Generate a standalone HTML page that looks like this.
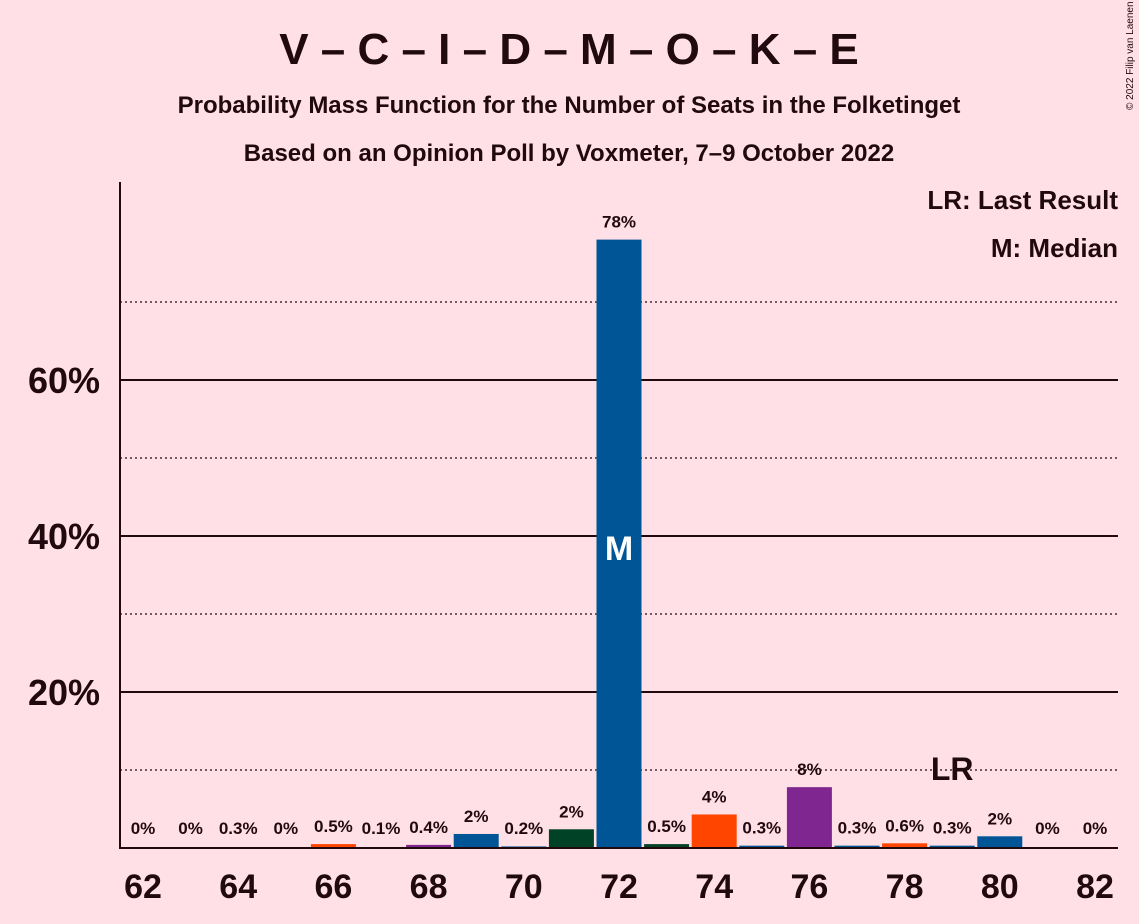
<!DOCTYPE html>
<html><head><meta charset="utf-8"><style>
body{margin:0;background:#FFE0E6;font-family:"Liberation Sans",sans-serif;}
svg{display:block}
</style></head><body>
<svg width="1139" height="924">
<rect width="1139" height="924" fill="#FFE0E6"/>
<text x="569" y="64" text-anchor="middle" font-size="44" font-weight="bold" fill="#200a10">V – C – I – D – M – O – K – E</text>
<text x="569" y="113" text-anchor="middle" font-size="24" font-weight="bold" fill="#200a10">Probability Mass Function for the Number of Seats in the Folketinget</text>
<text x="569" y="161" text-anchor="middle" font-size="24" font-weight="bold" fill="#200a10">Based on an Opinion Poll by Voxmeter, 7–9 October 2022</text>
<text x="1133" y="110" font-size="10" fill="#200a10" transform="rotate(-90 1133 110)">© 2022 Filip van Laenen</text>
<text x="1118" y="209" text-anchor="end" font-size="26" font-weight="bold" fill="#200a10">LR: Last Result</text>
<text x="1118" y="257" text-anchor="end" font-size="26" font-weight="bold" fill="#200a10">M: Median</text>
<g id="grid"></g>
<g id="bars"></g>
<line x1="120" y1="182" x2="120" y2="849" stroke="#200a10" stroke-width="2"/>
<line x1="119" y1="848" x2="1118" y2="848" stroke="#200a10" stroke-width="2"/>
<g id="xt"></g>
</svg>
<script>
const seats=[62,63,64,65,66,67,68,69,70,71,72,73,74,75,76,77,78,79,80,81,82];
const values=[0,0,0.05,0,0.5,0.1,0.4,1.8,0.2,2.4,78,0.5,4.3,0.3,7.8,0.3,0.6,0.3,1.5,0,0];
const labels=["0%","0%","0.3%","0%","0.5%","0.1%","0.4%","2%","0.2%","2%","78%","0.5%","4%","0.3%","8%","0.3%","0.6%","0.3%","2%","0%","0%"];
const colors=["#005596","#005596","#005596","#005596","#FF4500","#7F2690","#7F2690","#005596","#005596","#004225","#005596","#004225","#FF4500","#005596","#7F2690","#005596","#FF4500","#005596","#005596","#005596","#005596"];
const majorTicks=[20,40,60];
const minorTicks=[10,30,50,70];
const xTicks=[62,64,66,68,70,72,74,76,78,80,82];
const medianSeat=72, lastResult=79;
const NS="http://www.w3.org/2000/svg";
const C="#200a10";
const y=v=>848-v*7.8;
const x=s=>143+(s-62)*47.6;
function mk(t,p,a){const e=document.createElementNS(NS,t);for(const k in a)e.setAttribute(k,a[k]);p.appendChild(e);return e;}
const g=document.getElementById('grid');
minorTicks.forEach(v=>{const l=mk('line',g,{x1:120,x2:1118,y1:y(v),y2:y(v),stroke:C,'stroke-width':1.3,'stroke-dasharray':'2,3'});

});
majorTicks.forEach(v=>{const l=mk('line',g,{x1:120,x2:1118,y1:y(v),y2:y(v),stroke:C,'stroke-width':2});


const t=mk('text',g,{x:100,y:y(v)+13,'text-anchor':'end','font-size':36,'font-weight':'bold',fill:C});t.textContent=v+'%';

});
const b=document.getElementById('bars');
seats.forEach((s,i)=>{const v=values[i];
if(v>0){const r=mk('rect',b,{x:x(s)-22.5,y:y(v),width:45,height:848-y(v),fill:colors[i]});

}
const t=mk('text',b,{x:x(s),y:Math.min(y(v),846)-12,'text-anchor':'middle','font-size':17,'font-weight':'bold',fill:C});t.textContent=labels[i];


if(s===medianSeat){const m=mk('text',b,{x:x(s),y:560,'text-anchor':'middle','font-size':34,'font-weight':'bold',fill:'#fff'});m.textContent='M';

}
if(s===lastResult){const m=mk('text',b,{x:x(s),y:780,'text-anchor':'middle','font-size':32,'font-weight':'bold',fill:C});m.textContent='LR';

}
});
const xt=document.getElementById('xt');
xTicks.forEach(s=>{const t=mk('text',xt,{x:x(s),y:898,'text-anchor':'middle','font-size':34,'font-weight':'bold',fill:C});t.textContent=s;

});
</script>
</body></html>
